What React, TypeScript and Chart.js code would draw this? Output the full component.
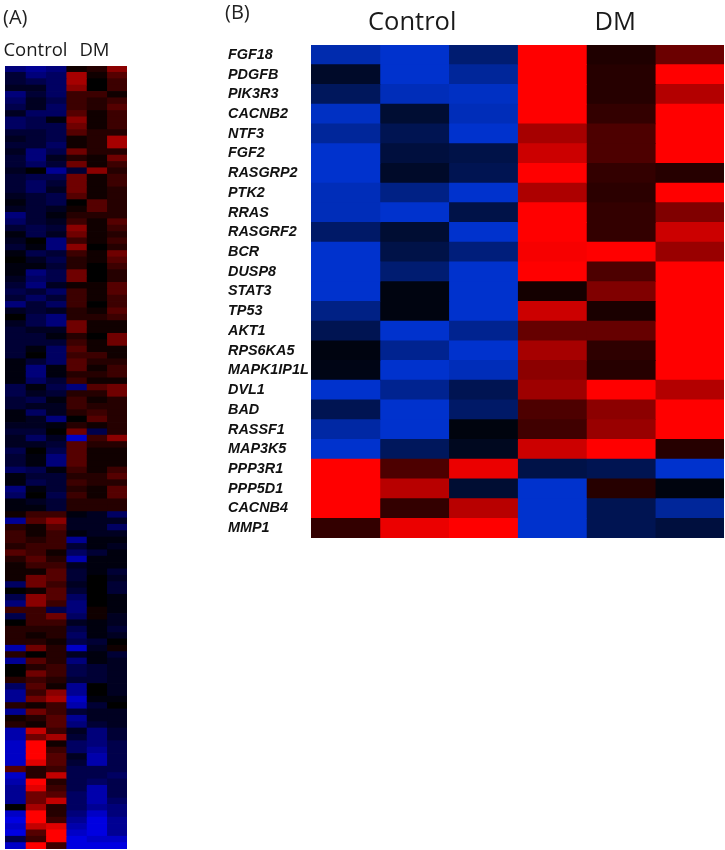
import React, { useEffect, useRef } from "react";
import { Chart, registerables } from "chart.js";

Chart.register(...registerables);

const groupLabels = ["Control", "DM"];
const samples = ["Control 1", "Control 2", "Control 3", "DM 1", "DM 2", "DM 3"];

const genes = [
  "FGF18", "PDGFB", "PIK3R3", "CACNB2", "NTF3", "FGF2", "RASGRP2", "PTK2", "RRAS", "RASGRF2", "BCR", "DUSP8",
  "STAT3", "TP53", "AKT1", "RPS6KA5", "MAPK1IP1L", "DVL1", "BAD", "RASSF1", "MAP3K5", "PPP3R1", "PPP5D1", "CACNB4", "MMP1",
];

const panelB = [
  [-0.85, -1, -0.55, 1, 0.12, 0.42],
  [-0.2, -1, -0.75, 1, 0.15, 1],
  [-0.45, -0.9, -0.95, 1, 0.15, 0.7],
  [-0.95, -0.25, -0.9, 1, 0.2, 1],
  [-0.75, -0.4, -1, 0.65, 0.3, 1],
  [-1, -0.3, -0.35, 0.8, 0.3, 1],
  [-1, -0.2, -0.4, 1, 0.2, 0.15],
  [-0.9, -0.65, -1, 0.68, 0.17, 1],
  [-0.9, -1, -0.35, 1, 0.2, 0.5],
  [-0.5, -0.25, -1, 1, 0.2, 0.8],
  [-1, -0.35, -0.6, 0.97, 1, 0.6],
  [-1, -0.55, -1, 1, 0.3, 1],
  [-1, -0.08, -1, 0.08, 0.5, 1],
  [-0.65, -0.08, -1, 0.8, 0.1, 1],
  [-0.4, -1, -0.7, 0.4, 0.4, 1],
  [-0.08, -0.7, -1, 0.65, 0.18, 1],
  [-0.1, -1, -0.9, 0.55, 0.15, 1],
  [-1, -0.7, -0.4, 0.62, 1, 0.7],
  [-0.4, -1, -0.5, 0.3, 0.55, 1],
  [-0.8, -1, -0.07, 0.25, 0.6, 1],
  [-1, -0.45, -0.15, 0.8, 1, 0.15],
  [1, 0.3, 0.92, -0.35, -0.4, -1],
  [1, 0.72, -0.25, -1, 0.15, -0.07],
  [1, 0.2, 0.72, -1, -0.4, -0.75],
  [0.2, 0.92, 1, -1, -0.4, -0.3],
];

const panelA = [
  [-6, -7, -6, 1, 2, 6], [-3, -6, -5, 7, 1, 4], [-3, -4, -5, 7, 0, 3], [-2, -2, -5, 6, 0, 3],
  [-6, -3, -5, 3, 3, 1], [-5, -2, -4, 3, 2, 3], [-4, -2, -5, 3, 2, 4], [-2, -5, -5, 4, 1, 3],
  [-5, -4, -1, 6, 1, 3], [-5, -4, -4, 5, 1, 3], [-3, -3, -4, 4, 2, 2],
  [-2, -3, -4, 1, 2, 7], [-3, -3, -5, 1, 2, 7], [-2, -6, -4, 5, 2, 2],
  [-3, -6, -2, 2, 1, 5], [-3, -5, -3, 5, 1, 3], [-2, 0, -7, -3, 6, 2], [-3, -4, -4, 5, 1, 3],
  [-3, -5, -3, 5, 1, 3], [-3, -5, -2, 5, 1, 2], [-2, -3, -4, 4, 1, 2], [-1, -3, -4, 0, 4, 2],
  [-2, -3, -2, 1, 4, 2], [-6, -3, -1, 2, 2, 2], [-5, -3, -2, 3, 1, 4], [-3, -4, -3, 6, 1, 3],
  [-1, -4, -2, 5, 1, 2], [-2, 0, -6, 3, 1, 3], [-3, -1, -6, 6, 0, 2], [-1, -4, -3, 3, 1, 5],
  [0, -2, -4, 2, 1, 4], [-1, -1, -3, 2, 0, 3], [-1, -6, -4, 5, 0, 2],
  [-2, -5, -4, 5, 0, 2], [-3, -6, -2, 1, 1, 4], [-4, -3, -5, 3, 1, 4],
  [-3, -5, -3, 3, 1, 3], [-6, -3, -5, 3, 0, 3], [-2, -3, -2, 2, 1, 4], [0, -4, -6, 2, 2, 3],
  [-2, -4, -6, 5, 1, 1], [-3, -2, -2, 5, 1, 1], [-3, -3, -1, 2, 0, 5], [-3, -3, -3, 3, 1, 5],
  [-3, -1, -5, 4, 1, 1], [-3, 0, -5, 3, 3, 1], [-1, -3, -5, 4, 2, 2], [-1, -6, -1, 4, 1, 3],
  [-1, -6, -1, 2, 2, 3], [-1, -5, -3, 3, 1, 1], [-4, -1, -4, -6, 4, 5], [-4, -2, -3, 2, 2, 5],
  [-3, -4, -1, 3, 1, 2], [-3, -2, -2, 3, 2, 2], [-1, -5, -2, 2, 3, 2],
  [-1, -2, -6, 0, 4, 2], [-2, -2, -1, 2, 1, 2], [-3, -3, 0, 5, -4, 2], [-2, -5, -2, -9, 3, 6],
  [-2, -2, -3, 4, 2, 2], [-4, 0, -4, 4, 1, 1], [-3, -1, -6, 4, 1, 1], [-3, -1, -6, 4, 1, 1], [-5, -4, -1, 3, 1, 3],
  [-1, -3, -3, 2, 2, 4], [-1, -4, -3, 3, 2, 2], [-6, -1, -3, 2, 1, 4], [-5, 0, -4, 3, 1, 4],
  [-1, -2, -3, 2, 2, 2], [-1, -1, -3, 2, 2, 2], [1, 3, 3, -1, -2, -5], [-7, 4, 6, -2, -2, -2], [2, 1, 4, -2, -2, -5],
  [3, 1, 3, -1, -2, -2], [3, 2, 3, -7, -1, -1], [2, 3, 3, -3, -1, -2], [4, 3, 1, -5, -3, -1],
  [2, 4, 2, -8, -1, -1], [1, 3, 3, -2, -1, -1], [1, 1, 4, -3, -1, -3],
  [1, 5, 4, -3, 0, -2], [-5, 5, 3, -2, 0, -3], [0, 1, 4, -3, 0, -3], [-4, 6, 4, -5, 0, -1],
  [-6, 6, 3, -6, 0, -1], [3, 3, -4, -6, 1, -1], [-4, 3, 5, -5, 1, -2], [0, 3, 3, -2, -1, -2],
  [2, 2, 2, -4, -1, -3], [2, 1, 2, -5, -1, -2], [2, 2, 1, -4, -3, 0], [-8, 5, 2, -9, -2, 1],
  [2, 0, 2, -2, -1, -3], [-7, 4, 2, -6, -1, -2], [0, 2, 3, -4, -3, -2], [0, 5, 3, -4, -3, -2],
  [2, 3, 2, -3, -3, -2], [-5, 4, 1, -7, 0, -2], [-7, 3, 6, -7, 0, -2], [-7, 5, 7, -9, -1, -1],
  [2, 1, 3, -8, -3, 0], [-7, 5, 3, -3, -2, -2], [1, 2, 4, -7, -2, -2], [2, 1, 4, -6, -3, -2],
  [-8, 8, 3, -2, -6, -3], [-8, 5, 7, -3, -6, -3], [-9, 10, 1, -5, -6, -4], [-9, 10, 3, -5, -7, -4],
  [-9, 10, 4, -2, -8, -4], [-9, 9, 4, -3, -8, -4], [4, 2, 3, -4, -4, -4], [-9, 2, 8, -4, -4, -5],
  [-8, 10, 2, -4, -5, -4], [-7, 9, 3, -4, -8, -4], [-7, 5, 4, -5, -8, -4], [-7, 5, 8, -5, -8, -5],
  [0, 7, 2, -5, -7, -6], [-9, 10, 2, -6, -9, -6], [-10, 10, 3, -7, -10, -7], [-9, 8, 9, -8, -10, -7],
  [-10, 4, 10, -9, -10, -7], [-4, 3, 10, -10, -9, -9], [-9, 10, 3, -10, -10, -10],
];

const colorA = (v: number) => {
  const m = Math.pow(Math.abs(v) / 10, 1.2);
  return v >= 0 ? `rgb(${Math.round(m * 255)},0,0)` : `rgb(0,0,${Math.round(m * 225)})`;
};
const colorB = (v: number) =>
  v >= 0 ? `rgb(${Math.round(v * 255)},0,0)` : `rgb(0,${Math.round(-v * 50)},${Math.round(-v * 205)})`;

function heatmap(
  canvas: HTMLCanvasElement,
  rows: number[][],
  rowLabels: string[],
  color: (v: number) => string,
  o: { top: number; axisWidth: number; pad: any; headerSize: number; headerPad: number; ticks: number[] },
) {
  return new Chart(canvas, {
    type: "bar",
    data: {
      labels: rowLabels,
      datasets: samples.map((label, c) => ({
        label,
        data: rows.map(() => 1),
        backgroundColor: rows.map((r) => color(r[c])),
        borderWidth: 0,
        barPercentage: 1,
        categoryPercentage: 1,
        inflateAmount: 0.4,
      })),
    },
    options: {
      indexAxis: "y",
      responsive: false,
      animation: false,
      layout: { padding: o.pad },
      plugins: { legend: { display: false }, tooltip: { enabled: false } },
      scales: {
        x: {
          type: "linear",
          position: "top",
          stacked: true,
          min: 0,
          max: 6,
          grid: { display: false, drawTicks: false },
          border: { display: false },
          afterBuildTicks: (s: any) => {
            s.ticks = o.ticks.map((value) => ({ value }));
          },
          afterFit: (s: any) => {
            s.height = o.top;
            s.paddingLeft = 0;
            s.paddingRight = 0;
          },
          ticks: {
            autoSkip: false,
            maxRotation: 0,
            padding: o.headerPad,
            color: "#1a1a1a",
            font: { family: "'Open Sans'", size: o.headerSize },
            callback: (_v: any, i: number) => groupLabels[i],
          },
        },
        y: {
          type: "category",
          stacked: true,
          display: o.axisWidth > 0,
          grid: { display: false, drawTicks: false },
          border: { display: false },
          afterFit: (s: any) => {
            s.width = o.axisWidth;
          },
          ticks: {
            autoSkip: false,
            crossAlign: "far",
            padding: 0,
            color: "#111",
            font: { family: "'Liberation Sans'", size: 14.4, style: "italic", weight: "bold" },
          },
        },
      },
    },
  } as any);
}

const panelLetter = (left: number, top: number): React.CSSProperties => ({
  position: "absolute",
  left,
  top,
  fontFamily: "'Open Sans'",
  fontSize: 20,
  lineHeight: "24px",
  color: "#222",
});

export default function App() {
  const a = useRef<HTMLCanvasElement>(null);
  const b = useRef<HTMLCanvasElement>(null);
  useEffect(() => {
    const ca = heatmap(a.current!, panelA, panelA.map((_, i) => String(i + 1)), colorA, {
      top: 66,
      axisWidth: 0,
      pad: { left: 5, right: 3, top: 0, bottom: 1 },
      headerSize: 18.5,
      headerPad: 4,
      ticks: [1.5, 4.4],
    });
    const cb = heatmap(b.current!, panelB, genes, colorB, {
      top: 45,
      axisWidth: 83,
      pad: { left: 0, right: 1, top: 0, bottom: 12 },
      headerSize: 25.5,
      headerPad: 7,
      ticks: [1.47, 4.42],
    });
    return () => {
      ca.destroy();
      cb.destroy();
    };
  }, []);
  return (
    <div style={{ position: "absolute", left: 0, top: 0, width: 725, height: 850, overflow: "hidden", background: "#fff" }}>
      <canvas ref={a} width={130} height={850} style={{ position: "absolute", left: 0, top: 0, width: 130, height: 850 }} />
      <canvas ref={b} width={497} height={550} style={{ position: "absolute", left: 228, top: 0, width: 497, height: 550 }} />
      <div style={panelLetter(3, 5)}>(A)</div>
      <div style={panelLetter(225, 0)}>(B)</div>
    </div>
  );
}
